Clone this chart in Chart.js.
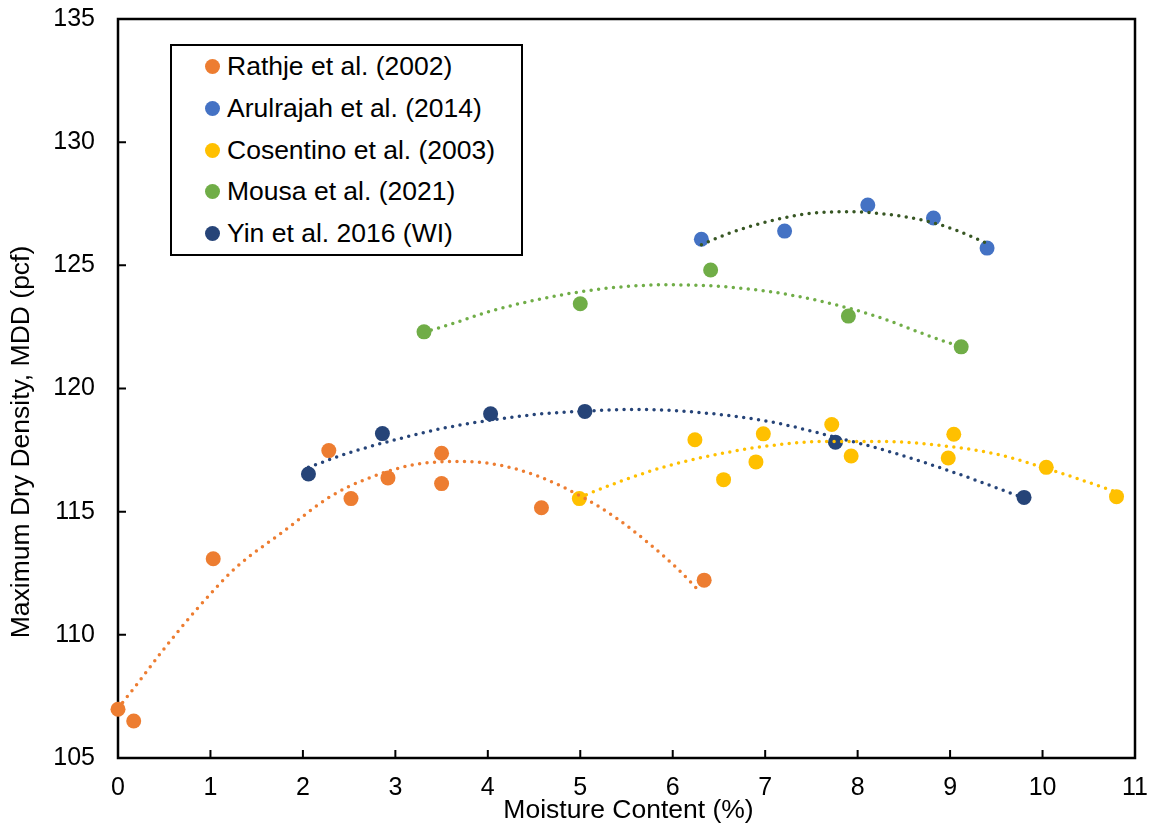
<!DOCTYPE html>
<html>
<head>
<meta charset="utf-8">
<script src="https://cdn.jsdelivr.net/npm/chart.js@4.4.1/dist/chart.umd.min.js"></script>
<style>
  body { margin: 0; background: #fff; }
  #wrap { position: relative; width: 1154px; height: 829px; }
  #legend {
    position: absolute; left: 170px; top: 44px; width: 353px; height: 212px;
    box-sizing: border-box; border: 2px solid #000; background: #fff;
    font-family: "Liberation Sans", Arial, sans-serif; font-size: 26.5px; color: #000;
  }
  #legend .item { display: flex; align-items: center; height: 41.7px; white-space: nowrap; }
  #legend .dot { width: 15px; height: 15px; border-radius: 50%; margin-left: 33px; margin-right: 7px; }
</style>
</head>
<body>
<div id="wrap">
  <canvas id="chart" width="1154" height="829"></canvas>
  <div id="legend"></div>
</div>
<script>
// series names / colours
const seriesNames = ["Rathje et al. (2002)", "Arulrajah et al. (2014)", "Cosentino et al. (2003)", "Mousa et al. (2021)", "Yin et al. 2016 (WI)"];
const seriesColors = ["#ED7D31", "#4472C4", "#FFC000", "#70AD47", "#264478"];
const trendColors = ["#ED7D31", "#375623", "#FFC000", "#70AD47", "#264478"];

// measured points (moisture %, MDD pcf)
const rathjeX = [0.00, 0.17, 1.03, 2.28, 2.52, 2.92, 3.50, 3.50, 4.58, 6.34];
const rathjeY = [106.98, 106.50, 113.09, 117.48, 115.53, 116.37, 117.37, 116.14, 115.16, 112.22];
const arulX = [6.31, 7.21, 8.11, 8.82, 9.40];
const arulY = [126.06, 126.39, 127.45, 126.92, 125.70];
const cosX = [4.99, 6.24, 6.55, 6.90, 6.98, 7.72, 7.93, 8.98, 9.04, 10.04, 10.80];
const cosY = [115.53, 117.92, 116.30, 117.02, 118.16, 118.54, 117.26, 117.18, 118.14, 116.80, 115.61];
const mousaX = [3.31, 5.00, 6.41, 7.90, 9.12];
const mousaY = [122.30, 123.44, 124.81, 122.94, 121.69];
const yinX = [2.06, 2.86, 4.03, 5.05, 7.76, 9.80];
const yinY = [116.53, 118.17, 118.97, 119.07, 117.82, 115.58];

// trendlines
const rathjeTrendX = [0.00, 0.20, 0.47, 0.85, 1.27, 1.78, 2.30, 2.69, 3.19, 3.71, 4.14, 4.55, 5.02, 5.39, 5.73, 6.05, 6.30];
const rathjeTrendY = [107.02, 107.97, 109.30, 111.03, 112.71, 114.17, 115.62, 116.33, 116.90, 117.04, 116.88, 116.43, 115.60, 114.74, 113.75, 112.69, 111.72];
const arulTrendX = [6.31, 6.63, 7.05, 7.47, 7.90, 8.32, 8.74, 9.07, 9.40];
const arulTrendY = [125.84, 126.33, 126.80, 127.10, 127.18, 127.07, 126.80, 126.42, 125.89];
const cosTrendX = [4.99, 5.40, 5.89, 6.42, 6.99, 7.64, 8.29, 8.86, 9.47, 10.08, 10.80];
const cosTrendY = [115.58, 116.18, 116.80, 117.28, 117.65, 117.85, 117.85, 117.70, 117.36, 116.71, 115.80];
const mousaTrendX = [3.31, 3.47, 4.05, 4.55, 5.06, 5.40, 5.93, 6.44, 7.04, 7.64, 8.22, 8.71, 9.12];
const mousaTrendY = [122.30, 122.46, 123.16, 123.62, 123.96, 124.11, 124.21, 124.16, 123.94, 123.51, 122.91, 122.22, 121.68];
const yinTrendX = [2.06, 2.39, 2.55, 3.06, 3.56, 4.50, 5.05, 5.60, 6.42, 7.07, 7.72, 8.37, 9.06, 9.80];
const yinTrendY = [116.80, 117.25, 117.45, 117.98, 118.42, 118.94, 119.08, 119.15, 118.98, 118.64, 118.06, 117.41, 116.57, 115.55];

const xTicks = [0, 1, 2, 3, 4, 5, 6, 7, 8, 9, 10, 11];
const yTicks = [105, 110, 115, 120, 125, 130, 135];
const xTitle = "Moisture Content (%)";
const yTitle = "Maximum Dry Density, MDD (pcf)";

const FONT = "'Liberation Sans', Arial, sans-serif";

function pts(xs, ys) {
  return xs.map((x, i) => ({ x: x, y: ys[i] }));
}

const pointSets = [[rathjeX, rathjeY], [arulX, arulY], [cosX, cosY], [mousaX, mousaY], [yinX, yinY]];
const trendSets = [[rathjeTrendX, rathjeTrendY], [arulTrendX, arulTrendY], [cosTrendX, cosTrendY], [mousaTrendX, mousaTrendY], [yinTrendX, yinTrendY]];

const datasets = [];
trendSets.forEach((s, i) => {
  datasets.push({
    label: seriesNames[i] + " trend",
    data: pts(s[0], s[1]),
    showLine: true,
    borderColor: trendColors[i],
    borderWidth: 3.5,
    borderDash: [0, 7.5],
    borderCapStyle: "round",
    cubicInterpolationMode: "monotone",
    pointRadius: 0,
    order: 0,
    clip: false,
  });
});
pointSets.forEach((s, i) => {
  datasets.push({
    label: seriesNames[i],
    data: pts(s[0], s[1]),
    backgroundColor: seriesColors[i],
    borderColor: seriesColors[i],
    borderWidth: 0,
    pointRadius: 7.5,
    order: 1,
    clip: false,
  });
});

// plot frame, inward tick marks and axis titles
const frameAndTicks = {
  id: "frameAndTicks",
  beforeDatasetsDraw(chart) {
    const { ctx, chartArea: a, scales } = chart;
    ctx.save();
    ctx.strokeStyle = "#000";
    ctx.lineWidth = 2.5;
    ctx.strokeRect(a.left, a.top, a.right - a.left, a.bottom - a.top);
    ctx.lineWidth = 2;
    ctx.beginPath();
    xTicks.forEach(v => {
      const px = scales.x.getPixelForValue(v);
      ctx.moveTo(px, a.bottom);
      ctx.lineTo(px, a.bottom - 8);
    });
    yTicks.forEach(v => {
      const py = scales.y.getPixelForValue(v);
      ctx.moveTo(a.left, py);
      ctx.lineTo(a.left + 8, py);
    });
    ctx.stroke();

    ctx.fillStyle = "#000";
    ctx.font = "26.5px " + FONT;
    ctx.textAlign = "center";
    ctx.textBaseline = "middle";
    ctx.fillText(xTitle, (a.left + a.right) / 2 + 2, 811);
    ctx.translate(22, 442);
    ctx.rotate(-Math.PI / 2);
    ctx.fillText(yTitle, 0, 0);
    ctx.restore();
  },
};

const chart = new Chart(document.getElementById("chart").getContext("2d"), {
  type: "scatter",
  data: { datasets: datasets },
  options: {
    responsive: false,
    animation: false,
    layout: { padding: { top: 19, right: 19, left: 0, bottom: 0 } },
    plugins: { legend: { display: false }, tooltip: { enabled: false } },
    scales: {
      x: {
        type: "linear", min: 0, max: 11,
        afterBuildTicks: s => { s.ticks = xTicks.map(v => ({ value: v })); },
        ticks: { color: "#000", font: { family: FONT, size: 25 }, padding: 15, maxRotation: 0 },
        grid: { display: false, drawTicks: false },
        border: { display: false },
        afterFit: s => { s.height = 71; s.paddingLeft = 0; s.paddingRight = 0; },
      },
      y: {
        type: "linear", min: 105, max: 135,
        afterBuildTicks: s => { s.ticks = yTicks.map(v => ({ value: v })); },
        ticks: { color: "#000", font: { family: FONT, size: 25 }, padding: 23 },
        grid: { display: false, drawTicks: false },
        border: { display: false },
        afterFit: s => { s.width = 118; s.paddingTop = 0; s.paddingBottom = 0; },
      },
    },
  },
  plugins: [frameAndTicks],
});

// legend box
const legend = document.getElementById("legend");
seriesNames.forEach((name, i) => {
  const item = document.createElement("div");
  item.className = "item";
  const dot = document.createElement("span");
  dot.className = "dot";
  dot.style.background = seriesColors[i];
  item.appendChild(dot);
  item.appendChild(document.createTextNode(name));
  legend.appendChild(item);
});
</script>
</body>
</html>
